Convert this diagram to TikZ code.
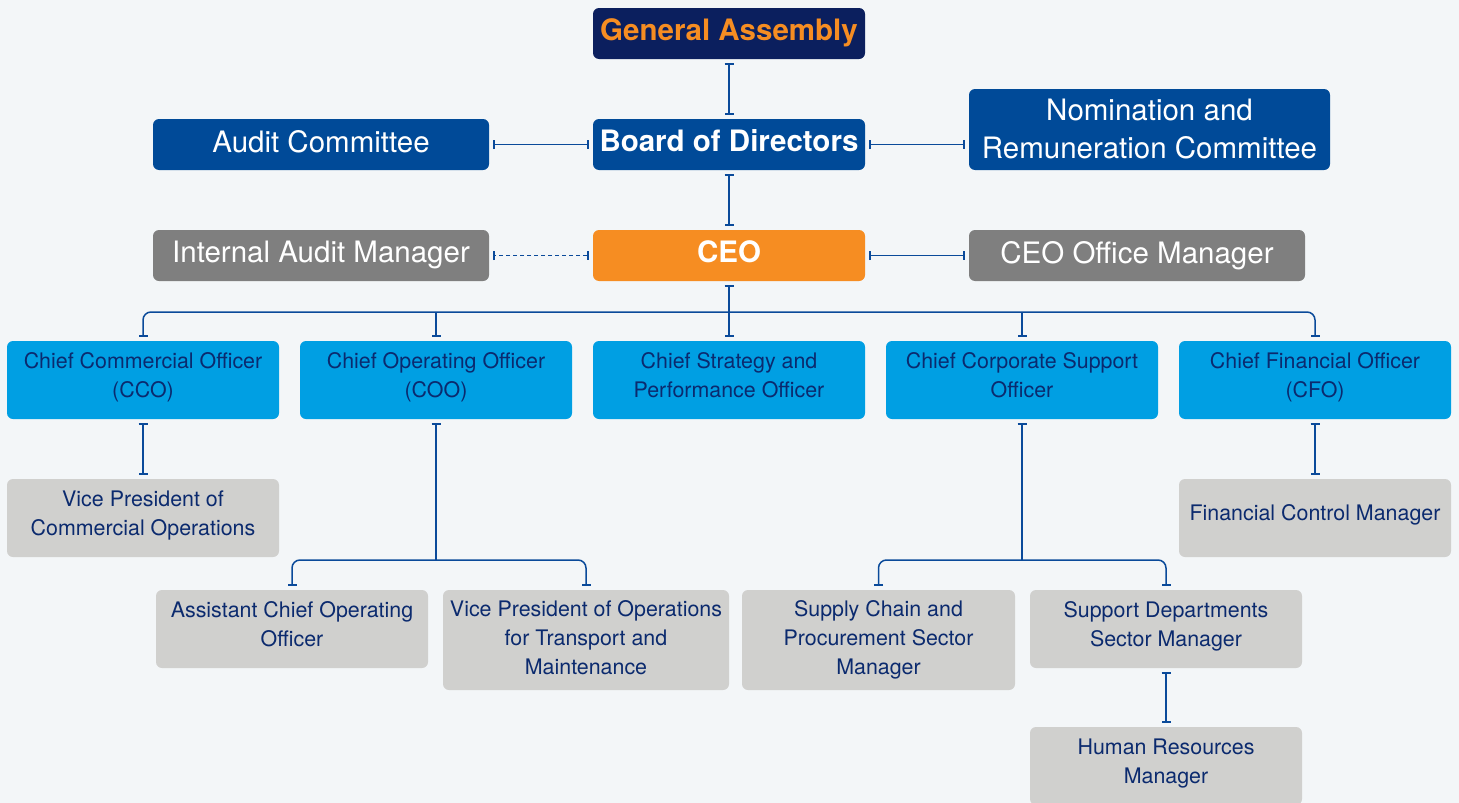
\documentclass[tikz,border=0pt]{standalone}
\usepackage{fontspec}
\setmainfont{TeX Gyre Heros}
\usetikzlibrary{arrows.meta}
\definecolor{pagebg}{HTML}{F3F6F8}
\definecolor{navy}{HTML}{0B1F5E}
\definecolor{boardblue}{HTML}{004A98}
\definecolor{ceoorange}{HTML}{F68D22}
\definecolor{midgray}{HTML}{7F7F7F}
\definecolor{chiefcyan}{HTML}{009FE3}
\definecolor{lightbox}{HTML}{D0D0CE}
\definecolor{inktext}{HTML}{0B2A6E}
\definecolor{linkblue}{HTML}{0A4A9A}
\tikzset{
  topbox/.style={
    % The shape:
    rectangle, rounded corners=6pt,
    % The size:
    minimum height=51pt, inner sep=0pt, text depth=7pt,
    % The text:
    align=center, text=white, font=\fontsize{29.5}{38}\selectfont
  },
  chiefbox/.style={
    % The shape:
    rectangle, rounded corners=6pt,
    minimum width=272pt, minimum height=78pt, inner sep=0pt, text depth=9pt,
    % The rest
    fill=chiefcyan, text=inktext, align=center,
    font=\fontsize{21.4}{29}\selectfont},
  unitbox/.style={
    % The shape:
    rectangle, rounded corners=6pt,
    minimum width=272pt, minimum height=78pt, inner sep=0pt, text depth=10pt,
    % The rest
    fill=lightbox, text=inktext, align=center,
    font=\fontsize{21.4}{29}\selectfont},
  link/.style={draw=linkblue, line width=1.5pt,
    shorten >=4pt, shorten <=4pt},
  tips/.style={arrows={Bar[width=9pt,line width=2.2pt]-Bar[width=9pt,line width=2.2pt]}},
  endtip/.style={arrows={-Bar[width=9pt,line width=2.2pt]}},
  starttip/.style={arrows={Bar[width=9pt,line width=2.2pt]-}}
}
\begin{document}
\begin{tikzpicture}[x=1pt,y=-1pt]
  \fill[pagebg] (0,0) rectangle (1459,803);
  \useasboundingbox (0,0) rectangle (1459,803);

  % governance
  \node (assembly) [topbox, fill=navy, text=ceoorange, minimum width=272pt, font=\fontsize{29.5}{38}\selectfont\bfseries]
    at (729,33.5) {General Assembly};
  \node (board) [topbox, fill=boardblue, minimum width=272pt, font=\fontsize{29.5}{38}\selectfont\bfseries]
    at (729,144.5) {Board of Directors};
  \node (audit) [topbox, fill=boardblue, minimum width=336pt] at (321,144.5) {Audit Committee};
  \node (nomination) [topbox, fill=boardblue, minimum width=361pt, minimum height=81pt, text depth=1pt]
    at (1149.5,129.5) {Nomination and\\Remuneration Committee};

  % executive
  \node (ceo) [topbox, fill=ceoorange, minimum width=272pt, font=\fontsize{29.5}{38}\selectfont\bfseries]
    at (729,255.5) {CEO};
  \node (internal) [topbox, fill=midgray, minimum width=336pt] at (321,255.5) {Internal Audit Manager};
  \node (office) [topbox, fill=midgray, minimum width=336pt] at (1137,255.5) {CEO Office Manager};

  % chiefs
  \node (cco)  [chiefbox] at (143,380)  {Chief Commercial Officer\\(CCO)};
  \node (coo)  [chiefbox] at (436,380)  {Chief Operating Officer\\(COO)};
  \node (cspo) [chiefbox] at (729,380)  {Chief Strategy and\\Performance Officer};
  \node (ccso) [chiefbox] at (1022,380) {Chief Corporate Support\\Officer};
  \node (cfo)  [chiefbox] at (1315,380) {Chief Financial Officer\\(CFO)};

  % units
  \node (vpcom)   [unitbox] at (143,518)  {Vice President of\\Commercial Operations};
  \node (fincon)  [unitbox] at (1315,518) {Financial Control Manager};
  \node (acoo)    [unitbox] at (292,629)  {Assistant Chief Operating\\Officer};
  \node (vpops)   [unitbox, minimum width=286pt, minimum height=100pt, text depth=4.5pt] at (586,640)
    {Vice President of Operations\\for Transport and\\Maintenance};
  \node (supply)  [unitbox, minimum width=273pt, minimum height=100pt, text depth=4.5pt] at (878.5,640)
    {Supply Chain and\\Procurement Sector\\Manager};
  \node (support) [unitbox] at (1166,629) {Support Departments\\Sector Manager};
  \node (hr)      [unitbox] at (1166,766) {Human Resources\\Manager};

  \coordinate (ceobus) at (729,312);
  \coordinate (coobus) at (436,560);
  \coordinate (ccsobus) at (1022,560);

  % connectors
  \draw[link,tips] (assembly.south) -- (board.north);
  \draw[link,tips] (board.west) -- (audit.east);
  \draw[link,tips] (board.east) -- (board.east -| nomination.west);
  \draw[link,tips] (board.south) -- (ceo.north);
  \draw[link,tips,dash pattern=on 4pt off 3pt] (ceo.west) -- (internal.east);
  \draw[link,tips] (ceo.east) -- (office.west);
  \draw[link,tips] (ceo.south) -- (cspo.north);
  \draw[link,endtip,shorten <=0pt,rounded corners=8pt] (ceobus) -| (cco.north);
  \draw[link,endtip,shorten <=0pt,rounded corners=8pt] (ceobus) -| (cfo.north);
  \draw[link,endtip,shorten <=0pt] (ceobus -| coo.north) -- (coo.north);
  \draw[link,endtip,shorten <=0pt] (ceobus -| ccso.north) -- (ccso.north);
  \draw[link,tips] (cco.south) -- (vpcom.north);
  \draw[link,tips] (cfo.south) -- (fincon.north);
  \draw[link,starttip,shorten >=0pt] (coo.south) -- (coobus);
  \draw[link,endtip,shorten <=0pt,rounded corners=8pt] (coobus) -| (acoo.north);
  \draw[link,endtip,shorten <=0pt,rounded corners=8pt] (coobus) -| (vpops.north);
  \draw[link,starttip,shorten >=0pt] (ccso.south) -- (ccsobus);
  \draw[link,endtip,shorten <=0pt,rounded corners=8pt] (ccsobus) -| (supply.north);
  \draw[link,endtip,shorten <=0pt,rounded corners=8pt] (ccsobus) -| (support.north);
  \draw[link,tips] (support.south) -- (hr.north);
\end{tikzpicture}
\end{document}
